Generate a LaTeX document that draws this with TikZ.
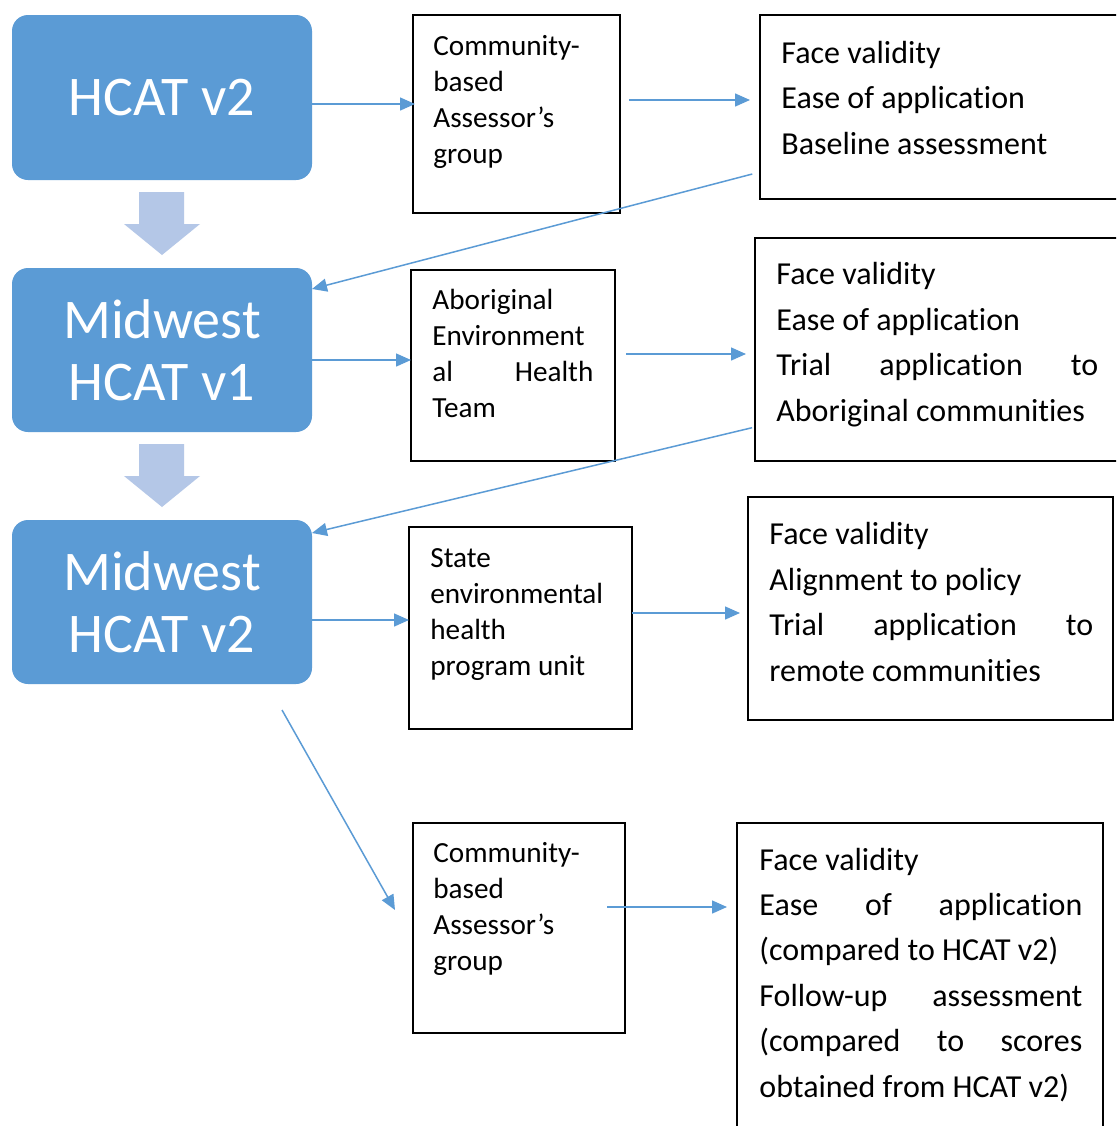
\documentclass[tikz,border=0pt]{standalone}
\usepackage{fontspec}
\setmainfont{Carlito}[Ligatures={NoCommon,NoContextual,NoRare},Contextuals=NoAlternate]
\usetikzlibrary{arrows.meta,fit}
\definecolor{accentblue}{HTML}{5B9BD5}
\definecolor{paleblue}{HTML}{B4C7E7}
\begin{document}
\begin{tikzpicture}[x=0.5pt,y=-0.5pt,
  stage/.style={fill=accentblue, draw=none, rounded corners=8pt, inner sep=0pt, outer sep=0pt},
  panel/.style={draw=black, fill=white, line width=1pt, inner sep=0pt, outer sep=0pt},
  stagetext/.style={text=white, align=center, inner sep=0pt, font=\fontsize{28pt}{31pt}\selectfont},
  grouptext/.style={anchor=base west, align=left, inner sep=0pt, font=\fontsize{14.6pt}{18pt}\selectfont},
  resulttext/.style={anchor=base west, align=left, inner sep=0pt, font=\fontsize{16pt}{22.7pt}\selectfont},
  conn/.style={draw=accentblue, line width=0.75pt, -{Triangle[length=7.5pt,width=6.5pt]}},
  blockarrow/.style={fill=paleblue, draw=none}]

\useasboundingbox (0,0) rectangle (1116,1126);
\fill[white] (0,0) rectangle (1116,1126);
\clip (0,0) rectangle (1116,1126);

% tool versions
\node[stage, fit={(12,15) (312,180)}] (b1) {};
\node[stage, fit={(12,268) (312,432)}] (b2) {};
\node[stage, fit={(12,520) (312,684)}] (b3) {};
\node[stagetext] (b1t) at (b1.center) {HCAT v2};
\node[stagetext] (b2t) at (b2.center) {Midwest\\HCAT v1};
\node[stagetext] (b3t) at (b3.center) {Midwest\\HCAT v2};

% progression arrows between versions
\fill[blockarrow] (139,192) -- (184,192) -- (184,224) -- (200,224) -- (162,255) -- (124,224) -- (139,224) -- cycle;
\fill[blockarrow] (139,444) -- (184,444) -- (184,476) -- (200,476) -- (162,507) -- (124,476) -- (139,476) -- cycle;

% reviewing groups (text placed by the baseline of its last line)
\node[panel, fit={(413,15) (620,213)}] (s1) {};
\node[panel, fit={(411,270) (615,461)}] (s2) {};
\node[panel, fit={(409,527) (632,729)}] (s3) {};
\node[panel, fit={(413,823) (625,1033)}] (s4) {};
\node[grouptext] (s1t) at (433,163) {Community-\\based\\Assessor’s\\group};
\node[grouptext] (s2t) at (432,417) {Aboriginal\\Environment\\\hbox to 80.5pt{al\hfill Health}\\Team};
\node[grouptext] (s3t) at (430,675) {State\\environmental\\health\\program unit};
\node[grouptext] (s4t) at (433,970) {Community-\\based\\Assessor’s\\group};

% evaluation outcomes
\node[panel, fit={(760,15) (1130,199)}] (r1) {};
\node[panel, fit={(755,238) (1130,461)}] (r2) {};
\node[panel, fit={(748,497) (1113,720)}] (r3) {};
\node[panel, fit={(737,823) (1103,1140)}] (r4) {};
\node[resulttext] (r1t) at (781,154) {Face validity\\Ease of application\\Baseline assessment};
\node[resulttext] (r2t) at (776,421) {Face validity\\Ease of application\\\hbox to 161pt{Trial\hfill application\hfill to}\\Aboriginal communities};
\node[resulttext] (r3t) at (769,681) {Face validity\\Alignment to policy\\\hbox to 162pt{Trial\hfill application\hfill to}\\remote communities};
\node[resulttext] (r4t) at (759,1097) {Face validity\\\hbox to 161.5pt{Ease\hfill of\hfill application}\\(compared to HCAT v2)\\\hbox to 161.5pt{Follow-up\hfill assessment}\\\hbox to 161.5pt{(compared\hfill to\hfill scores}\\obtained from HCAT v2)};

% free ends of connectors
\coordinate (a9s) at (282,710);
\coordinate (a9e) at (395,910);
\coordinate (a10s) at (607,907);

% connectors
\draw[conn, shorten >=-1pt] (b1.east |- 0,104) -- (s1.west |- 0,104);
\draw[conn, shorten <=4.5pt, shorten >=5pt] (s1.east |- 0,100) -- (r1.west |- 0,100);
\draw[conn, shorten <=4pt] (r1.west |- 0,172) -- (b2.east |- 0,289);
\draw[conn] (b2.east |- 0,360) -- (s2.west |- 0,360);
\draw[conn, shorten <=5.5pt, shorten >=4.5pt] (s2.east |- 0,354) -- (r2.west |- 0,354);
\draw[conn, shorten <=1.5pt] (r2.west |- 0,427) -- (b3.east |- 0,533);
\draw[conn] (b3.east |- 0,620) -- (s3.west |- 0,620);
\draw[conn, shorten >=4pt] (s3.east |- 0,613) -- (r3.west |- 0,613);
\draw[conn] (a9s) -- (a9e);
\draw[conn, shorten >=5pt] (a10s) -- (r4.west |- 0,907);
\end{tikzpicture}
\end{document}
